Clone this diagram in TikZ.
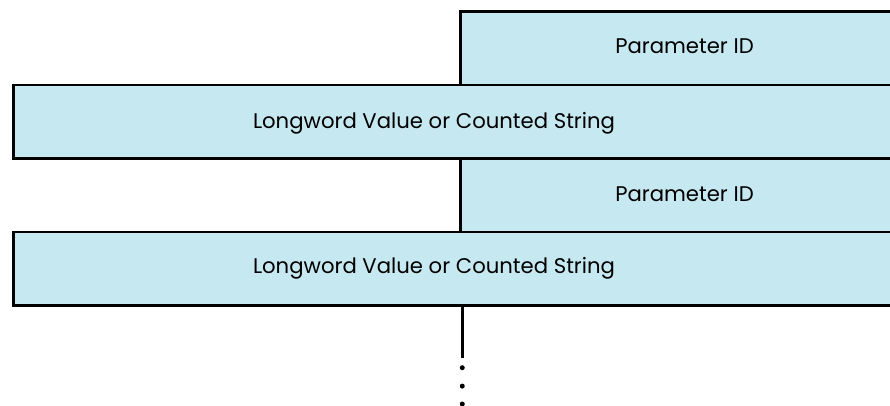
\documentclass[tikz,border=0pt]{standalone}
\usepackage{fontspec}
\setmainfont{Poppins}
\usepackage{xcolor}
\usetikzlibrary{positioning}
\definecolor{fieldblue}{RGB}{198,232,240}

\begin{document}
\begin{tikzpicture}[
  x=1pt,y=-1pt,
  field/.style={draw=black,fill=fieldblue,rectangle,line width=2.5pt,minimum height=73.5pt,inner sep=0pt,anchor=north west},
  lbl/.style={font=\fontsize{21.2}{25}\selectfont,anchor=base,inner sep=0pt},
  dot/.style={circle,fill=black,inner sep=0pt,minimum size=5pt}
]
\useasboundingbox (0,0) rectangle (890,405);
\clip (0,0) rectangle (890,405);

\node[field,minimum width=460pt] (param1) at (459,10) {};
\node[field,minimum width=898pt] (value1) at (12,83.5) {};
\node[field,minimum width=460pt] (param2) at (459,157) {};
\node[field,minimum width=898pt] (value2) at (12,230.5) {};

\node[lbl] (param1text) at (684.5,53) {Parameter ID};
\node[lbl] (value1text) at (434,128) {Longword Value or Counted String};
\node[lbl] (param2text) at (684.5,201) {Parameter ID};
\node[lbl] (value2text) at (434,273) {Longword Value or Counted String};

% continuation
\coordinate[below=51pt of value2.south] (tail);
\draw[line width=2.5pt] (value2.south) -- (tail);
\node[dot,below=7.5pt of tail] (dot1) {};
\node[dot,below=13pt of dot1] (dot2) {};
\node[dot,below=12.5pt of dot2] (dot3) {};

\end{tikzpicture}
\end{document}
